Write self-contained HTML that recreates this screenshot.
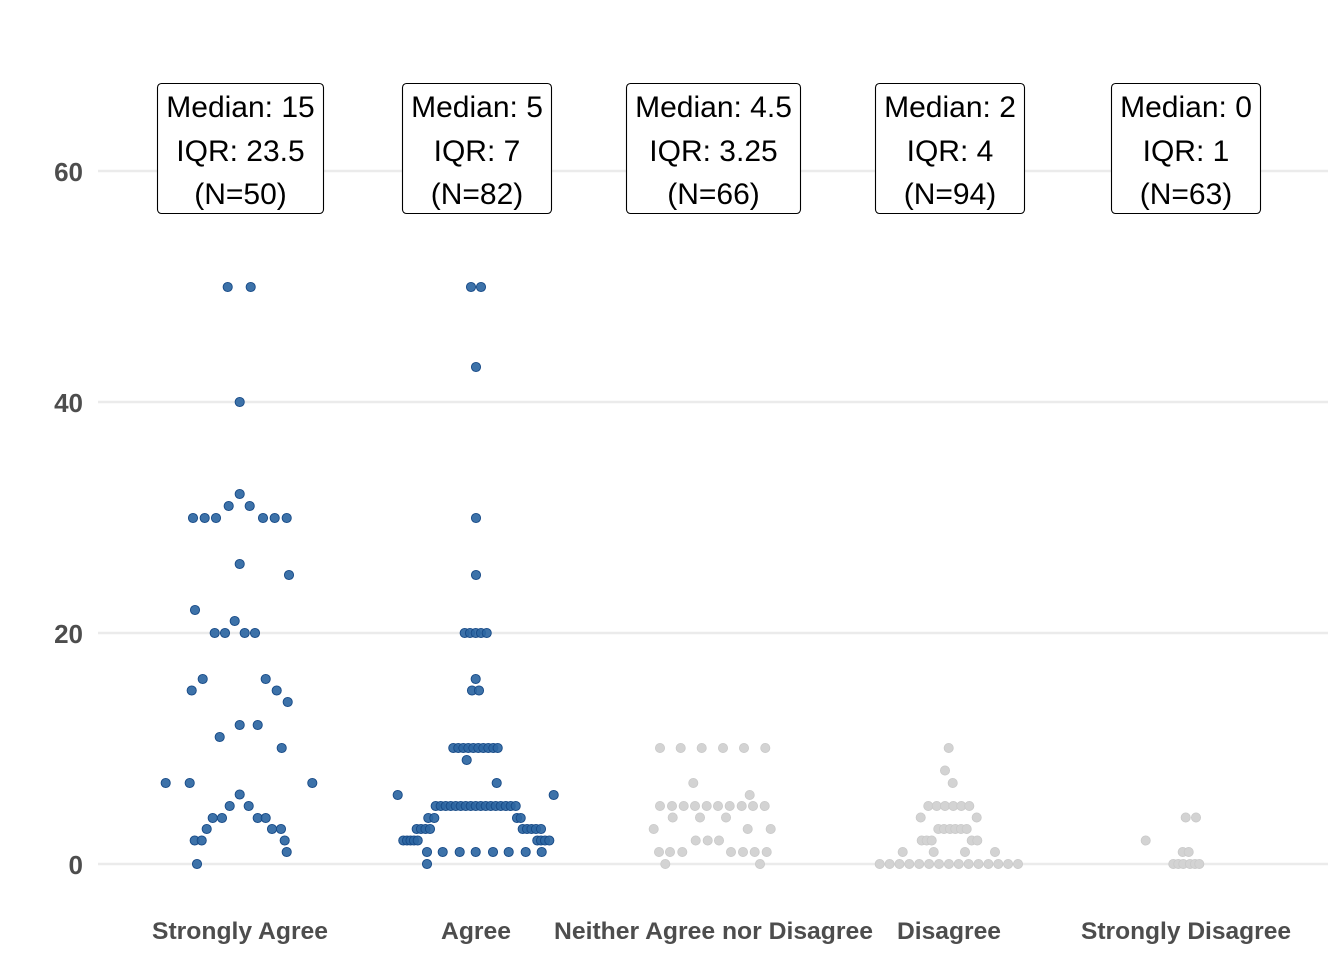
<!DOCTYPE html>
<html><head><meta charset="utf-8"><style>
html,body{margin:0;padding:0;background:#fff;}
svg{display:block;}
</style></head><body>
<svg width="1344" height="960" viewBox="0 0 1344 960" xmlns="http://www.w3.org/2000/svg">
<rect width="1344" height="960" fill="#fff"/>
<g stroke="#ebebeb" stroke-width="2.5">
<line x1="98" y1="171" x2="1328" y2="171"/>
<line x1="98" y1="402" x2="1328" y2="402"/>
<line x1="98" y1="633" x2="1328" y2="633"/>
<line x1="98" y1="864" x2="1328" y2="864"/>
</g>
<g font-family="Liberation Sans, sans-serif" font-weight="bold" font-size="26" fill="#4d4d4d" text-anchor="end">
<text x="83" y="181">60</text>
<text x="83" y="412">40</text>
<text x="83" y="643">20</text>
<text x="83" y="874">0</text>
</g>
<g font-family="Liberation Sans, sans-serif" font-weight="bold" font-size="24" fill="#4d4d4d">
<text x="152" y="939" textLength="176" lengthAdjust="spacingAndGlyphs">Strongly Agree</text>
<text x="441" y="939" textLength="70" lengthAdjust="spacingAndGlyphs">Agree</text>
<text x="554" y="939" textLength="319" lengthAdjust="spacingAndGlyphs">Neither Agree nor Disagree</text>
<text x="897" y="939" textLength="104" lengthAdjust="spacingAndGlyphs">Disagree</text>
<text x="1081" y="939" textLength="210" lengthAdjust="spacingAndGlyphs">Strongly Disagree</text>
</g>
<!-- grey points -->
<g fill="#d3d3d3" stroke="#c9c9c9" stroke-width="0.8">
<circle cx="660" cy="748" r="4.6"/><circle cx="680.7" cy="748" r="4.6"/><circle cx="701.7" cy="748" r="4.6"/><circle cx="723" cy="748" r="4.6"/><circle cx="744" cy="748" r="4.6"/><circle cx="765.3" cy="748" r="4.6"/>
<circle cx="693.3" cy="783" r="4.6"/><circle cx="749.7" cy="795" r="4.6"/>
<circle cx="660" cy="806" r="4.6"/><circle cx="672" cy="806" r="4.6"/><circle cx="683.7" cy="806" r="4.6"/><circle cx="695" cy="806" r="4.6"/><circle cx="706.7" cy="806" r="4.6"/><circle cx="718" cy="806" r="4.6"/><circle cx="729.7" cy="806" r="4.6"/><circle cx="741.7" cy="806" r="4.6"/><circle cx="753" cy="806" r="4.6"/><circle cx="764.7" cy="806" r="4.6"/>
<circle cx="672.7" cy="817.5" r="4.6"/><circle cx="700" cy="817.5" r="4.6"/><circle cx="726" cy="817.5" r="4.6"/>
<circle cx="653.7" cy="829" r="4.6"/><circle cx="747.7" cy="829" r="4.6"/><circle cx="770.7" cy="829" r="4.6"/>
<circle cx="695.7" cy="840.5" r="4.6"/><circle cx="707.7" cy="840.5" r="4.6"/><circle cx="719" cy="840.5" r="4.6"/>
<circle cx="659" cy="852" r="4.6"/><circle cx="670" cy="852" r="4.6"/><circle cx="682.3" cy="852" r="4.6"/><circle cx="731" cy="852" r="4.6"/><circle cx="743" cy="852" r="4.6"/><circle cx="754.7" cy="852" r="4.6"/><circle cx="766.7" cy="852" r="4.6"/>
<circle cx="665.3" cy="864" r="4.6"/><circle cx="760" cy="864" r="4.6"/>

<circle cx="948.7" cy="748" r="4.6"/><circle cx="945" cy="770.5" r="4.6"/><circle cx="952.7" cy="783" r="4.6"/>
<circle cx="928.3" cy="806" r="4.6"/><circle cx="936.7" cy="806" r="4.6"/><circle cx="945" cy="806" r="4.6"/><circle cx="953.3" cy="806" r="4.6"/><circle cx="961.3" cy="806" r="4.6"/><circle cx="969.3" cy="806" r="4.6"/>
<circle cx="920.7" cy="817.5" r="4.6"/><circle cx="976.7" cy="817.5" r="4.6"/>
<circle cx="938.3" cy="829" r="4.6"/><circle cx="944" cy="829" r="4.6"/><circle cx="950" cy="829" r="4.6"/><circle cx="955.3" cy="829" r="4.6"/><circle cx="961" cy="829" r="4.6"/><circle cx="966.7" cy="829" r="4.6"/>
<circle cx="921.7" cy="840.5" r="4.6"/><circle cx="926.7" cy="840.5" r="4.6"/><circle cx="931.7" cy="840.5" r="4.6"/><circle cx="971.7" cy="840.5" r="4.6"/><circle cx="977.3" cy="840.5" r="4.6"/>
<circle cx="902.7" cy="852" r="4.6"/><circle cx="933.7" cy="852" r="4.6"/><circle cx="965" cy="852" r="4.6"/><circle cx="995" cy="852" r="4.6"/>
<circle cx="879.7" cy="864" r="4.6"/><circle cx="889.6" cy="864" r="4.6"/><circle cx="899.5" cy="864" r="4.6"/><circle cx="909.3" cy="864" r="4.6"/><circle cx="919.2" cy="864" r="4.6"/><circle cx="929.1" cy="864" r="4.6"/><circle cx="939" cy="864" r="4.6"/><circle cx="948.9" cy="864" r="4.6"/><circle cx="958.7" cy="864" r="4.6"/><circle cx="968.6" cy="864" r="4.6"/><circle cx="978.5" cy="864" r="4.6"/><circle cx="988.4" cy="864" r="4.6"/><circle cx="998.3" cy="864" r="4.6"/><circle cx="1008.1" cy="864" r="4.6"/><circle cx="1018" cy="864" r="4.6"/>

<circle cx="1185.7" cy="817.5" r="4.6"/><circle cx="1196" cy="817.5" r="4.6"/><circle cx="1145.7" cy="840.5" r="4.6"/>
<circle cx="1182.7" cy="852" r="4.6"/><circle cx="1188.7" cy="852" r="4.6"/>
<circle cx="1173.3" cy="864" r="4.6"/><circle cx="1178.3" cy="864" r="4.6"/><circle cx="1183.3" cy="864" r="4.6"/><circle cx="1190" cy="864" r="4.6"/><circle cx="1195" cy="864" r="4.6"/><circle cx="1199.3" cy="864" r="4.6"/>
</g>
<!-- blue points -->
<g fill="#2d66a2" fill-opacity="0.92" stroke="#174a87" stroke-width="0.9">
<circle cx="227.7" cy="287" r="4.6"/><circle cx="250.7" cy="287" r="4.6"/><circle cx="239.7" cy="402" r="4.6"/><circle cx="239.7" cy="494" r="4.6"/><circle cx="228.7" cy="506" r="4.6"/><circle cx="249.7" cy="506" r="4.6"/>
<circle cx="193" cy="518" r="4.6"/><circle cx="204.7" cy="518" r="4.6"/><circle cx="216" cy="518" r="4.6"/><circle cx="263" cy="518" r="4.6"/><circle cx="274.7" cy="518" r="4.6"/><circle cx="286.7" cy="518" r="4.6"/>
<circle cx="239.7" cy="564" r="4.6"/><circle cx="289" cy="575" r="4.6"/><circle cx="195" cy="610" r="4.6"/><circle cx="234.7" cy="621" r="4.6"/>
<circle cx="214.7" cy="633" r="4.6"/><circle cx="225" cy="633" r="4.6"/><circle cx="244.7" cy="633" r="4.6"/><circle cx="255" cy="633" r="4.6"/>
<circle cx="202.7" cy="679" r="4.6"/><circle cx="265.7" cy="679" r="4.6"/><circle cx="191.7" cy="690.5" r="4.6"/><circle cx="276.7" cy="690.5" r="4.6"/><circle cx="287.7" cy="702" r="4.6"/>
<circle cx="239.7" cy="725" r="4.6"/><circle cx="257.7" cy="725" r="4.6"/><circle cx="219.7" cy="737" r="4.6"/><circle cx="281.7" cy="748" r="4.6"/>
<circle cx="165.7" cy="783" r="4.6"/><circle cx="189.7" cy="783" r="4.6"/><circle cx="312.3" cy="783" r="4.6"/>
<circle cx="239.7" cy="794.5" r="4.6"/><circle cx="229.7" cy="806" r="4.6"/><circle cx="248.7" cy="806" r="4.6"/>
<circle cx="212.7" cy="818" r="4.6"/><circle cx="222" cy="818" r="4.6"/><circle cx="257.7" cy="818" r="4.6"/><circle cx="265.7" cy="818" r="4.6"/>
<circle cx="206.7" cy="829" r="4.6"/><circle cx="272" cy="829" r="4.6"/><circle cx="281" cy="829" r="4.6"/>
<circle cx="194.7" cy="840.5" r="4.6"/><circle cx="201.7" cy="840.5" r="4.6"/><circle cx="284.7" cy="840.5" r="4.6"/>
<circle cx="286.7" cy="852" r="4.6"/><circle cx="197" cy="864" r="4.6"/>

<circle cx="471" cy="287" r="4.6"/><circle cx="481" cy="287" r="4.6"/><circle cx="476" cy="367" r="4.6"/><circle cx="476" cy="518" r="4.6"/><circle cx="476" cy="575" r="4.6"/>
<circle cx="464.7" cy="633" r="4.6"/><circle cx="470" cy="633" r="4.6"/><circle cx="475.7" cy="633" r="4.6"/><circle cx="481" cy="633" r="4.6"/><circle cx="486.7" cy="633" r="4.6"/>
<circle cx="475.7" cy="679" r="4.6"/><circle cx="472" cy="690.5" r="4.6"/><circle cx="479" cy="690.5" r="4.6"/>
<circle cx="453.3" cy="748" r="4.6"/><circle cx="458.3" cy="748" r="4.6"/><circle cx="463.3" cy="748" r="4.6"/><circle cx="468.3" cy="748" r="4.6"/><circle cx="473.3" cy="748" r="4.6"/><circle cx="478.3" cy="748" r="4.6"/><circle cx="483.3" cy="748" r="4.6"/><circle cx="488.3" cy="748" r="4.6"/><circle cx="493.3" cy="748" r="4.6"/><circle cx="497.7" cy="748" r="4.6"/>
<circle cx="466.7" cy="760" r="4.6"/><circle cx="496.7" cy="783" r="4.6"/><circle cx="397.7" cy="795" r="4.6"/><circle cx="553.7" cy="795" r="4.6"/>
<circle cx="435.7" cy="806" r="4.6"/><circle cx="440.7" cy="806" r="4.6"/><circle cx="445.7" cy="806" r="4.6"/><circle cx="450.7" cy="806" r="4.6"/><circle cx="455.7" cy="806" r="4.6"/><circle cx="460.7" cy="806" r="4.6"/><circle cx="465.7" cy="806" r="4.6"/><circle cx="470.7" cy="806" r="4.6"/><circle cx="475.7" cy="806" r="4.6"/><circle cx="480.7" cy="806" r="4.6"/><circle cx="485.7" cy="806" r="4.6"/><circle cx="490.7" cy="806" r="4.6"/><circle cx="495.7" cy="806" r="4.6"/><circle cx="500.7" cy="806" r="4.6"/><circle cx="505.7" cy="806" r="4.6"/><circle cx="510.7" cy="806" r="4.6"/><circle cx="515.7" cy="806" r="4.6"/>
<circle cx="428.3" cy="818" r="4.6"/><circle cx="434.3" cy="818" r="4.6"/><circle cx="517" cy="818" r="4.6"/><circle cx="520.7" cy="818" r="4.6"/>
<circle cx="416.7" cy="829" r="4.6"/><circle cx="421" cy="829" r="4.6"/><circle cx="425.5" cy="829" r="4.6"/><circle cx="430" cy="829" r="4.6"/><circle cx="522.7" cy="829" r="4.6"/><circle cx="527" cy="829" r="4.6"/><circle cx="531.5" cy="829" r="4.6"/><circle cx="536" cy="829" r="4.6"/><circle cx="541" cy="829" r="4.6"/>
<circle cx="403.3" cy="840.5" r="4.6"/><circle cx="407" cy="840.5" r="4.6"/><circle cx="410.5" cy="840.5" r="4.6"/><circle cx="414" cy="840.5" r="4.6"/><circle cx="417.7" cy="840.5" r="4.6"/><circle cx="537.3" cy="840.5" r="4.6"/><circle cx="541" cy="840.5" r="4.6"/><circle cx="545" cy="840.5" r="4.6"/><circle cx="549.3" cy="840.5" r="4.6"/>
<circle cx="427" cy="852" r="4.6"/><circle cx="442.7" cy="852" r="4.6"/><circle cx="459.7" cy="852" r="4.6"/><circle cx="475.7" cy="852" r="4.6"/><circle cx="493" cy="852" r="4.6"/><circle cx="508.7" cy="852" r="4.6"/><circle cx="525.7" cy="852" r="4.6"/><circle cx="541.7" cy="852" r="4.6"/>
<circle cx="427" cy="864" r="4.6"/>
</g>
<!-- label boxes -->
<g fill="#fff" stroke="#000" stroke-width="1.1">
<rect x="157.5" y="83.5" width="166" height="130" rx="4"/>
<rect x="402.5" y="83.5" width="149" height="130" rx="4"/>
<rect x="626.5" y="83.5" width="174" height="130" rx="4"/>
<rect x="875.5" y="83.5" width="149" height="130" rx="4"/>
<rect x="1111.5" y="83.5" width="149" height="130" rx="4"/>
</g>
<g font-family="Liberation Sans, sans-serif" font-size="30" fill="#000" text-anchor="middle">
<text x="240.5" y="117">Median: 15</text><text x="240.5" y="161">IQR: 23.5</text><text x="240.5" y="204">(N=50)</text>
<text x="477" y="117">Median: 5</text><text x="477" y="161">IQR: 7</text><text x="477" y="204">(N=82)</text>
<text x="713.5" y="117">Median: 4.5</text><text x="713.5" y="161">IQR: 3.25</text><text x="713.5" y="204">(N=66)</text>
<text x="950" y="117">Median: 2</text><text x="950" y="161">IQR: 4</text><text x="950" y="204">(N=94)</text>
<text x="1186" y="117">Median: 0</text><text x="1186" y="161">IQR: 1</text><text x="1186" y="204">(N=63)</text>
</g>
</svg>
</body></html>
